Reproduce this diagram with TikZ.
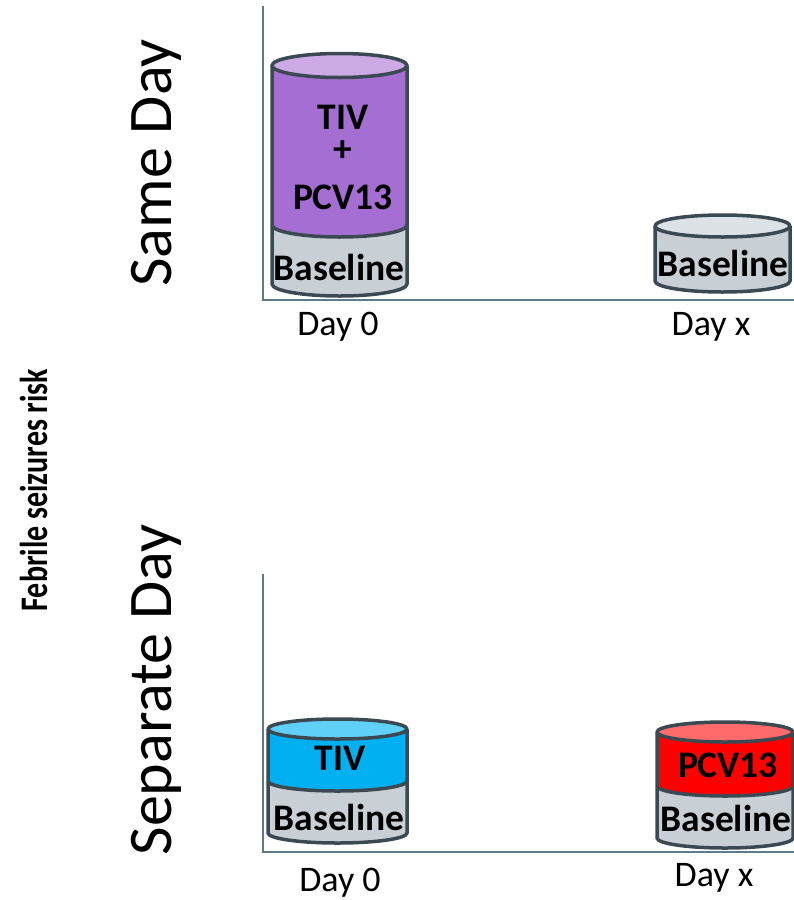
\documentclass[tikz,border=0pt]{standalone}
\usepackage{fontspec}
\setmainfont{Carlito}
\definecolor{edge}{HTML}{3B4A52}
\definecolor{basefill}{HTML}{C8D0D6}
\definecolor{basetop}{HTML}{DCE2E6}
\definecolor{purplebody}{HTML}{A46ED2}
\definecolor{purpletop}{HTML}{CDA9E5}
\definecolor{bluebody}{HTML}{00B0F0}
\definecolor{bluetop}{HTML}{5FD0F7}
\definecolor{redbody}{HTML}{FF0000}
\definecolor{redtop}{HTML}{FF6B6B}
\definecolor{axiscol}{HTML}{5E7B89}
\tikzset{
  axisline/.style={draw=axiscol, line width=2.5pt},
  outline/.style={draw=edge, line width=3.5pt, line join=round},
  cyllbl/.style={inner sep=0pt, font=\fontsize{37.5}{40}\selectfont\bfseries},
  daylbl/.style={inner sep=0pt, anchor=base, font=\fontsize{36}{40}\selectfont},
  rowlbl/.style={inner sep=0pt, anchor=base, rotate=90, font=\fontsize{62}{66}\selectfont},
}
% #1 cx, #2 rx, #3 top y, #4 mid y, #5 bottom y, #6 ry, #7 body colour, #8 top colour
\newcommand{\twocyl}[8]{%
  \fill[basefill] (#1-#2,#4) -- (#1-#2,#5) arc[start angle=180,end angle=360,x radius=#2pt,y radius=#6pt] -- (#1+#2,#4) -- cycle;
  \fill[#7] (#1-#2,#3) -- (#1-#2,#4) arc[start angle=180,end angle=360,x radius=#2pt,y radius=#6pt] -- (#1+#2,#3) -- cycle;
  \fill[#8] (#1,#3) ellipse[x radius=#2pt,y radius=#6pt];
  \draw[outline] (#1-#2,#4) arc[start angle=180,end angle=360,x radius=#2pt,y radius=#6pt];
  \draw[outline] (#1-#2,#3) -- (#1-#2,#5) arc[start angle=180,end angle=360,x radius=#2pt,y radius=#6pt] -- (#1+#2,#3);
  \draw[outline] (#1,#3) ellipse[x radius=#2pt,y radius=#6pt];
}
\newcommand{\onecyl}[5]{%
  \fill[basefill] (#1-#2,#3) -- (#1-#2,#4) arc[start angle=180,end angle=360,x radius=#2pt,y radius=#5pt] -- (#1+#2,#3) -- cycle;
  \fill[basetop] (#1,#3) ellipse[x radius=#2pt,y radius=#5pt];
  \draw[outline] (#1-#2,#3) -- (#1-#2,#4) arc[start angle=180,end angle=360,x radius=#2pt,y radius=#5pt] -- (#1+#2,#3);
  \draw[outline] (#1,#3) ellipse[x radius=#2pt,y radius=#5pt];
}
\begin{document}
\begin{tikzpicture}[x=1pt,y=-1pt]
\useasboundingbox (0,0) rectangle (794,900);
% axes
\draw[axisline] (263,6) -- (263,300) -- (794,300);
\draw[axisline] (263,574) -- (263,852) -- (794,852);
% cylinders
\twocyl{339.5}{67.5}{65.5}{225}{284}{12}{purplebody}{purpletop}
\onecyl{722.5}{67.5}{226}{281}{11}
\twocyl{337.5}{69.5}{729}{781}{833}{10}{bluebody}{bluetop}
\twocyl{725}{68}{732}{786}{838}{10}{redbody}{redtop}
% cylinder labels
\node[cyllbl] (a1) at (343,117) {TIV};
\node[cyllbl] (a2) at (343,151) {+};
\node[cyllbl] (a3) at (343,197) {PCV13};
\node[cyllbl] (a4) at (339,267) {Baseline};
\node[cyllbl] (b1) at (723,263) {Baseline};
\node[cyllbl] (c1) at (340,758) {TIV};
\node[cyllbl] (c2) at (339,817) {Baseline};
\node[cyllbl] (d1) at (728,765) {PCV13};
\node[cyllbl] (d2) at (726,818) {Baseline};
% day labels
\node[daylbl] (t0) at (338,335) {Day 0};
\node[daylbl] (tx) at (711,335) {Day x};
\node[daylbl] (s0) at (340,891) {Day 0};
\node[daylbl] (sx) at (714,886) {Day x};
% row labels
\node[rowlbl] (same) at (171,163) {Same Day};
\node[rowlbl] (sep) at (171,690) {Separate Day};
\node[inner sep=0pt, anchor=base, rotate=90, yscale=1.3, font=\fontsize{30}{34}\selectfont\bfseries] (risk) at (47,490) {Febrile seizures risk};
\end{tikzpicture}
\end{document}
